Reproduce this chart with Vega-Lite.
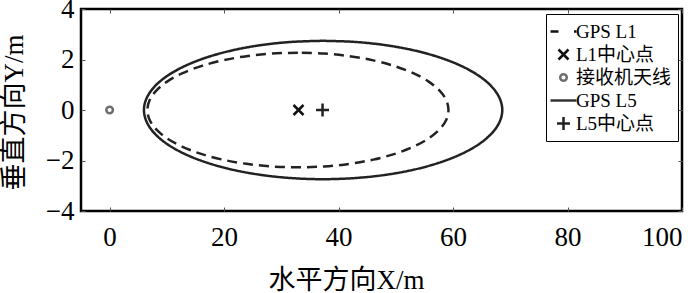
{
  "$schema": "https://vega.github.io/schema/vega-lite/v6.json",
  "width": 601,
  "height": 202,
  "autosize": "none",
  "padding": {"left": 81, "top": 9, "right": 18, "bottom": 82},
  "background": "white",
  "config": {
    "view": {"stroke": "#000", "strokeWidth": 2.5},
    "axis": {
      "grid": false,
      "domain": false,
      "tickSize": -4,
      "tickColor": "#555",
      "tickWidth": 1,
      "labelFont": "Liberation Serif",
      "labelFontSize": 27,
      "labelColor": "#000",
      "titleFont": "Liberation Serif, Noto Sans CJK SC",
      "titleFontSize": 27,
      "titleFontWeight": "normal",
      "titleColor": "#000"
    },
    "legend": {
      "labelFont": "Liberation Serif, Noto Sans CJK SC",
      "labelFontSize": 19,
      "labelColor": "#000"
    }
  },
  "datasets": {
    "ellipses": [
      {"series": "GPS L5", "i": 0, "x": 37.3, "y": 2.74},
      {"series": "GPS L5", "i": 1, "x": 31.87, "y": 2.698},
      {"series": "GPS L5", "i": 2, "x": 26.6, "y": 2.575},
      {"series": "GPS L5", "i": 3, "x": 21.65, "y": 2.373},
      {"series": "GPS L5", "i": 4, "x": 17.18, "y": 2.099},
      {"series": "GPS L5", "i": 5, "x": 13.32, "y": 1.761},
      {"series": "GPS L5", "i": 6, "x": 10.19, "y": 1.37},
      {"series": "GPS L5", "i": 7, "x": 7.89, "y": 0.937},
      {"series": "GPS L5", "i": 8, "x": 6.48, "y": 0.476},
      {"series": "GPS L5", "i": 9, "x": 6.0, "y": 0},
      {"series": "GPS L5", "i": 10, "x": 6.48, "y": -0.476},
      {"series": "GPS L5", "i": 11, "x": 7.89, "y": -0.937},
      {"series": "GPS L5", "i": 12, "x": 10.19, "y": -1.37},
      {"series": "GPS L5", "i": 13, "x": 13.32, "y": -1.761},
      {"series": "GPS L5", "i": 14, "x": 17.18, "y": -2.099},
      {"series": "GPS L5", "i": 15, "x": 21.65, "y": -2.373},
      {"series": "GPS L5", "i": 16, "x": 26.6, "y": -2.575},
      {"series": "GPS L5", "i": 17, "x": 31.87, "y": -2.698},
      {"series": "GPS L5", "i": 18, "x": 37.3, "y": -2.74},
      {"series": "GPS L5", "i": 19, "x": 42.73, "y": -2.698},
      {"series": "GPS L5", "i": 20, "x": 48.0, "y": -2.575},
      {"series": "GPS L5", "i": 21, "x": 52.95, "y": -2.373},
      {"series": "GPS L5", "i": 22, "x": 57.42, "y": -2.099},
      {"series": "GPS L5", "i": 23, "x": 61.28, "y": -1.761},
      {"series": "GPS L5", "i": 24, "x": 64.41, "y": -1.37},
      {"series": "GPS L5", "i": 25, "x": 66.71, "y": -0.937},
      {"series": "GPS L5", "i": 26, "x": 68.12, "y": -0.476},
      {"series": "GPS L5", "i": 27, "x": 68.6, "y": 0},
      {"series": "GPS L5", "i": 28, "x": 68.12, "y": 0.476},
      {"series": "GPS L5", "i": 29, "x": 66.71, "y": 0.937},
      {"series": "GPS L5", "i": 30, "x": 64.41, "y": 1.37},
      {"series": "GPS L5", "i": 31, "x": 61.28, "y": 1.761},
      {"series": "GPS L5", "i": 32, "x": 57.42, "y": 2.099},
      {"series": "GPS L5", "i": 33, "x": 52.95, "y": 2.373},
      {"series": "GPS L5", "i": 34, "x": 48.0, "y": 2.575},
      {"series": "GPS L5", "i": 35, "x": 42.73, "y": 2.698},
      {"series": "GPS L5", "i": 36, "x": 37.3, "y": 2.74},
      {"series": "GPS L1", "i": 0, "x": 32.9, "y": 2.27},
      {"series": "GPS L1", "i": 1, "x": 28.33, "y": 2.236},
      {"series": "GPS L1", "i": 2, "x": 23.91, "y": 2.133},
      {"series": "GPS L1", "i": 3, "x": 19.75, "y": 1.966},
      {"series": "GPS L1", "i": 4, "x": 15.99, "y": 1.739},
      {"series": "GPS L1", "i": 5, "x": 12.75, "y": 1.459},
      {"series": "GPS L1", "i": 6, "x": 10.12, "y": 1.135},
      {"series": "GPS L1", "i": 7, "x": 8.19, "y": 0.776},
      {"series": "GPS L1", "i": 8, "x": 7.0, "y": 0.394},
      {"series": "GPS L1", "i": 9, "x": 6.6, "y": 0},
      {"series": "GPS L1", "i": 10, "x": 7.0, "y": -0.394},
      {"series": "GPS L1", "i": 11, "x": 8.19, "y": -0.776},
      {"series": "GPS L1", "i": 12, "x": 10.12, "y": -1.135},
      {"series": "GPS L1", "i": 13, "x": 12.75, "y": -1.459},
      {"series": "GPS L1", "i": 14, "x": 15.99, "y": -1.739},
      {"series": "GPS L1", "i": 15, "x": 19.75, "y": -1.966},
      {"series": "GPS L1", "i": 16, "x": 23.91, "y": -2.133},
      {"series": "GPS L1", "i": 17, "x": 28.33, "y": -2.236},
      {"series": "GPS L1", "i": 18, "x": 32.9, "y": -2.27},
      {"series": "GPS L1", "i": 19, "x": 37.47, "y": -2.236},
      {"series": "GPS L1", "i": 20, "x": 41.89, "y": -2.133},
      {"series": "GPS L1", "i": 21, "x": 46.05, "y": -1.966},
      {"series": "GPS L1", "i": 22, "x": 49.81, "y": -1.739},
      {"series": "GPS L1", "i": 23, "x": 53.05, "y": -1.459},
      {"series": "GPS L1", "i": 24, "x": 55.68, "y": -1.135},
      {"series": "GPS L1", "i": 25, "x": 57.61, "y": -0.776},
      {"series": "GPS L1", "i": 26, "x": 58.8, "y": -0.394},
      {"series": "GPS L1", "i": 27, "x": 59.2, "y": 0},
      {"series": "GPS L1", "i": 28, "x": 58.8, "y": 0.394},
      {"series": "GPS L1", "i": 29, "x": 57.61, "y": 0.776},
      {"series": "GPS L1", "i": 30, "x": 55.68, "y": 1.135},
      {"series": "GPS L1", "i": 31, "x": 53.05, "y": 1.459},
      {"series": "GPS L1", "i": 32, "x": 49.81, "y": 1.739},
      {"series": "GPS L1", "i": 33, "x": 46.05, "y": 1.966},
      {"series": "GPS L1", "i": 34, "x": 41.89, "y": 2.133},
      {"series": "GPS L1", "i": 35, "x": 37.47, "y": 2.236},
      {"series": "GPS L1", "i": 36, "x": 32.9, "y": 2.27}
    ],
    "points": [
      {"series": "L1中心点", "x": 33.0, "y": 0},
      {"series": "接收机天线", "x": 0, "y": 0},
      {"series": "L5中心点", "x": 37.2, "y": 0}
    ]
  },
  "layer": [
    {
      "data": {"name": "ellipses"},
      "mark": {"type": "line", "strokeWidth": 2.5, "color": "#222", "interpolate": "cardinal", "clip": true},
      "encoding": {
        "x": {
          "field": "x", "type": "quantitative",
          "scale": {"domain": [-5, 100], "nice": false, "zero": false},
          "axis": {
            "values": [0, 20, 40, 60, 80, 100],
            "labelPadding": 17,
            "title": "水平方向X/m",
            "titleX": 265, "titleY": 69,
            "titleAlign": "center", "titleBaseline": "middle"
          }
        },
        "y": {
          "field": "y", "type": "quantitative",
          "scale": {"domain": [-4, 4], "nice": false, "zero": false},
          "axis": {
            "values": [-4, -2, 0, 2, 4],
            "labelPadding": 11,
            "title": "垂直方向Y/m",
            "titleX": -67, "titleY": 103,
            "titleAlign": "center", "titleBaseline": "middle", "titleAngle": -90
          }
        },
        "detail": {"field": "series", "type": "nominal"},
        "order": {"field": "i", "type": "quantitative"},
        "strokeDash": {
          "field": "series", "type": "nominal",
          "scale": {"domain": ["GPS L1", "GPS L5"], "range": [[10, 6], [1, 0]]},
          "legend": null
        }
      }
    },
    {
      "data": {"name": "points"},
      "mark": {"type": "point", "filled": false, "size": 400, "strokeWidth": 2.5, "opacity": 1},
      "encoding": {
        "x": {
          "field": "x", "type": "quantitative",
          "axis": {"orient": "top", "values": [0, 20, 40, 60, 80, 100], "labels": false, "title": null}
        },
        "y": {
          "field": "y", "type": "quantitative",
          "axis": {"orient": "right", "values": [-4, -2, 0, 2, 4], "labels": false, "title": null}
        },
        "shape": {
          "field": "series", "type": "nominal",
          "scale": {
            "domain": ["GPS L1", "L1中心点", "接收机天线", "GPS L5", "L5中心点"],
            "range": [
              "M-1.3,0L-0.5,0M1.05,0L1.3,0",
              "M-0.5,-0.5L0.5,0.5M-0.5,0.5L0.5,-0.5",
              "M0.33,0A0.33,0.33,0,1,1,-0.33,0A0.33,0.33,0,1,1,0.33,0Z",
              "M-1.3,0L1.3,0",
              "M-0.65,0L0.65,0M0,-0.65L0,0.65"
            ]
          },
          "legend": {
            "title": null, "orient": "none", "legendX": 465, "legendY": 5,
            "padding": 6, "labelOffset": 1, "rowPadding": 1,
            "strokeColor": "#000", "fillColor": "white",
            "symbolStrokeWidth": 2.5, "symbolFillColor": "transparent", "symbolSize": 400,
            "encode": {"legend": {"update": {"strokeWidth": {"value": 2}}}}
          }
        },
        "color": {
          "field": "series", "type": "nominal",
          "scale": {
            "domain": ["GPS L1", "L1中心点", "接收机天线", "GPS L5", "L5中心点"],
            "range": ["#111111", "#111111", "#6e6e6e", "#333333", "#222222"]
          },
          "legend": {
            "title": null, "orient": "none", "legendX": 465, "legendY": 5,
            "padding": 6, "labelOffset": 1, "rowPadding": 1,
            "strokeColor": "#000", "fillColor": "white",
            "symbolStrokeWidth": 2.5, "symbolFillColor": "transparent", "symbolSize": 400,
            "encode": {"legend": {"update": {"strokeWidth": {"value": 2}}}}
          }
        }
      }
    }
  ],
  "resolve": {"axis": {"x": "independent", "y": "independent"}}
}
